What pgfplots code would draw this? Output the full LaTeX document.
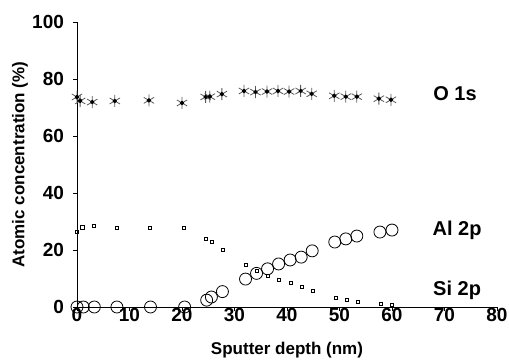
\documentclass[border=0pt]{standalone}
\usepackage{pgfplots}
\pgfplotsset{compat=1.18}
\usepackage{fontspec}
\setmainfont{Liberation Sans}
\begin{document}
\begin{tikzpicture}
\begin{axis}[
  scale only axis, width=210pt, height=142.5pt,
  xmin=0, xmax=80, ymin=0, ymax=100,
  axis lines=left, axis line style={-, thin},
  clip=false,
  xtick={0,10,...,80}, ytick={0,20,...,100},
  tick align=outside, major tick length=2pt,
  tick style={thin, black},
  /pgf/number format/assume math mode=true,
  ticklabel style={font=\fontsize{9.5}{10}\selectfont\bfseries},
  xticklabel style={yshift=5pt},
  yticklabel style={xshift=-1pt},
  xlabel={Sputter depth (nm)},
  ylabel={Atomic concentration (\%)},
  label style={font=\fontsize{8.5}{10}\selectfont\bfseries},
  xlabel style={at={(axis description cs:0.5,0)}, anchor=center, yshift=-21.5pt},
  ylabel style={at={(axis description cs:0,0.5)}, anchor=center, yshift=28.5pt},
]
% O 1s
\addplot[only marks, mark=asterisk, mark size=3pt, gray!70!black, mark options={line width=0.4pt}] coordinates {
(0,73.7)(0.6,72.3)(2.9,71.9)(7.2,72.3)(13.7,72.5)(20,71.6)(24.5,73.7)(25.3,73.8)(27.6,74.7)(31.8,75.8)(34,75.4)(36.2,75.6)(38.3,75.8)(40.4,75.6)(42.6,75.8)(44.7,74.8)(49,74.1)(51.2,73.8)(53.3,73.8)(57.5,73.1)(59.8,72.7)};
\addplot[only marks, mark=*, mark size=0.9pt, black] coordinates {
(0,73.7)(0.6,72.3)(2.9,71.9)(7.2,72.3)(13.7,72.5)(20,71.6)(24.5,73.7)(25.3,73.8)(27.6,74.7)(31.8,75.8)(34,75.4)(36.2,75.6)(38.3,75.8)(40.4,75.6)(42.6,75.8)(44.7,74.8)(49,74.1)(51.2,73.8)(53.3,73.8)(57.5,73.1)(59.8,72.7)};
% small squares
\addplot[only marks, mark=square, mark size=0.8pt, black, mark options={line width=0.3pt}] coordinates {
(0,26.3)(1,28)(3.2,28.4)(7.6,27.7)(13.9,27.9)(20.4,27.7)(24.5,23.9)(25.7,22.8)(27.7,20)(32.1,14.7)(34.2,12.8)(36.3,10.9)(38.5,9.5)(40.7,8.4)(42.8,7.0)(44.9,5.6)(49.3,3.2)(51.4,2.5)(53.5,1.8)(57.9,1.1)(60,0.8)};
% large circles
\addplot[only marks, mark=o, mark size=3pt, black, mark options={line width=0.4pt}] coordinates {
(0,0)(1.2,0)(3.3,0)(7.6,0)(14,0)(20.5,0)(24.7,2.4)(25.6,3.5)(27.7,5.4)(32.1,9.8)(34.2,11.8)(36.3,13.4)(38.4,15.1)(40.6,16.5)(42.7,17.5)(44.8,19.7)(49.1,22.8)(51.2,23.9)(53.3,24.9)(57.7,26.3)(60,27)};
\node[font=\fontsize{10}{12}\selectfont\bfseries] at (axis cs:72,75) {O 1s};
\node[font=\fontsize{10}{12}\selectfont\bfseries] at (axis cs:72.4,27) {Al 2p};
\node[font=\fontsize{10}{12}\selectfont\bfseries] at (axis cs:72.4,6) {Si 2p};
\end{axis}
\pgfresetboundingbox
\path (-38.5pt,-26pt) rectangle (216pt,153.5pt);
\end{tikzpicture}
\end{document}
